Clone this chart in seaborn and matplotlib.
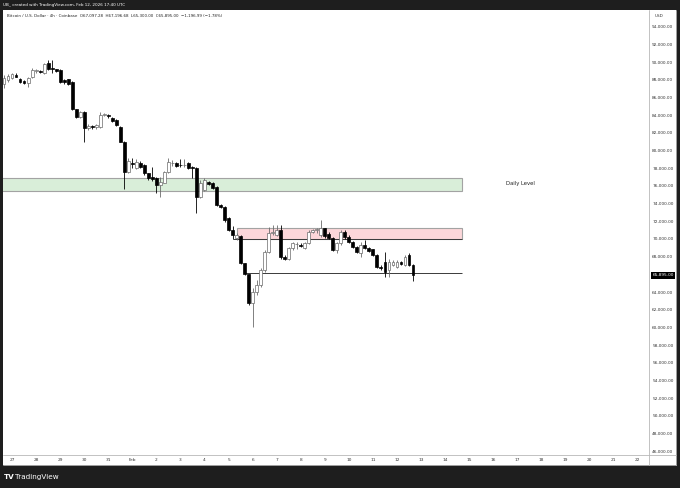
import matplotlib
matplotlib.use("Agg")
import matplotlib.pyplot as plt
import matplotlib.transforms as mtransforms
from matplotlib.patches import Rectangle
from matplotlib.lines import Line2D
import numpy as np
import pandas as pd
import seaborn as sns

# BTC/USD 4h candles, Jan 26 16:00 -> Feb 12 16:00
opens = [87600, 88000, 88190, 88530, 88110, 87880, 87620, 88300, 89020, 89000,
         88760, 89885, 89320, 89210, 89130, 88000, 88075, 87810, 84680, 83850,
         84415, 82530, 82720, 82640, 82640, 84040, 84000, 83735, 83470, 82720,
         81020, 77620, 78570, 78000, 78570, 78380, 77435, 77060, 76870, 76115,
         76380, 77620, 78570, 78640, 78380, 78350, 78570, 78190, 78000, 74795,
         75550, 76490, 76300, 75920, 73850, 73660, 72340, 71000, 70100, 70350,
         67250, 66000, 62720, 64000, 64790, 66490, 68570, 70640, 70500, 71020,
         68000, 67750, 68940, 69400, 69300, 68940, 69510, 70830, 71020, 70400,
         71200, 70600, 70100, 68750, 69500, 70830, 70265, 69700, 69130, 68380,
         69320, 68940, 68830, 68190, 66870, 67435, 66490, 67060, 66870, 67435,
         67060, 68190, 67097]
highs = [88550, 88680, 88750, 88750, 88225, 87950, 88300, 89320, 89210, 89100,
         89960, 90265, 90265, 89300, 89250, 88100, 88150, 87900, 84750, 84500,
         84500, 83020, 82950, 83000, 84415, 84300, 84100, 83850, 83550, 82800,
         81100, 79130, 79130, 79000, 78800, 78500, 77500, 78190, 77000, 77060,
         77750, 79130, 78900, 78750, 79020, 79020, 78700, 78300, 78100, 76680,
         76900, 76600, 76400, 76000, 73950, 73750, 72500, 71450, 70700, 70500,
         67300, 66050, 64500, 65360, 66680, 68750, 71400, 71585, 71585, 71585,
         68200, 69100, 69700, 69700, 69500, 69700, 71000, 71100, 71300, 72150,
         71300, 70750, 70200, 69700, 71020, 71000, 70400, 69800, 69250, 69700,
         69890, 69050, 68900, 68300, 67060, 68570, 67700, 67600, 67600, 67550,
         68150, 68380, 67197]
lows = [87050, 87810, 88075, 88350, 87620, 87500, 87170, 88190, 88830, 88800,
        88680, 89130, 88760, 88950, 87620, 87600, 87450, 84600, 83660, 83700,
        81020, 82340, 82450, 82450, 82530, 83900, 83750, 83300, 82800, 80950,
        75700, 77500, 78000, 77900, 78000, 77300, 76700, 76600, 75170, 74795,
        76300, 77500, 78300, 78150, 78200, 78200, 77900, 76870, 72900, 74600,
        75400, 76100, 75650, 73750, 73550, 71950, 70900, 70000, 69850, 67150,
        65900, 62500, 60080, 63660, 64600, 66300, 68400, 70400, 70300, 67700,
        67620, 67600, 68800, 68900, 69100, 68850, 69400, 70700, 70650, 70200,
        70100, 70000, 68600, 68450, 69320, 70000, 69600, 69000, 68450, 68000,
        68850, 68550, 68100, 66750, 66490, 65740, 65740, 66900, 66750, 67050,
        66950, 66950, 65300]
closes = [88200, 88450, 88640, 88380, 87735, 87620, 88190, 89130, 89060, 88950,
          89810, 89210, 89210, 89060, 87735, 87735, 87545, 84680, 83850, 84415,
          82530, 82790, 82700, 82900, 84040, 84080, 83900, 83395, 82900, 81020,
          77620, 78800, 78500, 78750, 78115, 77435, 76870, 76760, 76115, 76490,
          77620, 78755, 78600, 78265, 78350, 78400, 78000, 78000, 74795, 76300,
          76680, 76230, 75740, 73850, 73660, 72150, 71020, 70500, 70450, 67250,
          66050, 62720, 64000, 64790, 66490, 68570, 70640, 70830, 71020, 68000,
          67750, 68940, 69510, 69450, 69250, 69510, 70830, 71020, 71080, 71200,
          70300, 70100, 68750, 69500, 70830, 70190, 69700, 69130, 68570, 69320,
          68940, 68680, 68190, 66870, 66700, 66300, 67435, 67435, 67435, 67170,
          68000, 67060, 65895]

daily_level = (75430, 76940)     # green zone
supply_zone = (70000, 71280)     # red zone
support_level = 66120
last_price = 65895

y_ticks = list(range(46000, 94001, 2000))

sns.set_theme(style="white")
plt.rcParams["font.family"] = ["DejaVu Sans"]

W, H = 680, 488
fig = plt.figure(figsize=(6.8, 4.88), dpi=100, facecolor="#1e1e1e")


def fx(px):
    return px / W


def fy(py):
    return 1 - py / H


# white chart panel inside the dark frame (behind the axes)
fig.patches.append(Rectangle((fx(3), fy(465)), fx(676) - fx(3), fy(10) - fy(465),
                             transform=fig.transFigure, facecolor="white",
                             edgecolor="none", zorder=-5))

ax = fig.add_axes([fx(3), fy(455), fx(649) - fx(3), fy(12) - fy(455)])
ax.set_facecolor("white")

n = len(opens)
x = np.arange(n)
o = np.array(opens)
h = np.array(highs)
l = np.array(lows)
c = np.array(closes)
up = c >= o

x_lo, x_hi = -0.25, 160.85

# time axis labels from the candle timestamps
times = pd.date_range("2026-01-26 16:00", periods=161, freq="4h")
tick_pos = [i for i, t in enumerate(times) if t.hour == 0 and i <= x_hi]
tick_lab = ["Feb" if (times[i].day == 1) else str(times[i].day) for i in tick_pos]

# zones
zone_left_green = -1
zone_left_red = 58.2
zone_right = 114.2
ax.add_patch(Rectangle((zone_left_green, daily_level[0]), zone_right - zone_left_green,
                       daily_level[1] - daily_level[0], facecolor="#d9eed9",
                       edgecolor="#a3a3a3", linewidth=0.8, zorder=1))
ax.add_patch(Rectangle((zone_left_red, supply_zone[0]), zone_right - zone_left_red,
                       supply_zone[1] - supply_zone[0], facecolor="#fcd7da",
                       edgecolor="#a3a3a3", linewidth=0.8, zorder=1))
ax.hlines(supply_zone[0], 57.0, zone_right, color="#3a3a3a", linewidth=0.7, zorder=2)
ax.hlines(support_level, 60.0, zone_right, color="#3a3a3a", linewidth=0.7, zorder=2)
ax.text(128.9, 76230, "Daily Level", fontsize=3.8, color="#222222",
        ha="center", va="center")

# candles
wick_col = np.where(up, "#6b6b6b", "#000000")
ax.vlines(x, l, h, colors=wick_col, linewidth=0.6, zorder=3)
body_lo = np.minimum(o, c)
body_h = np.maximum(np.abs(c - o), 70)
ax.bar(x, body_h, bottom=body_lo, width=0.72,
       color=np.where(up, "#ffffff", "#000000"),
       edgecolor=np.where(up, "#6b6b6b", "#000000"), linewidth=0.5, zorder=4)

ax.yaxis.tick_right()
ax.set_yticks(y_ticks)
ax.set_yticklabels([f"{v:,.2f}" for v in y_ticks], fontsize=3.1, color="#333333")
ax.set_xticks(tick_pos)
ax.set_xticklabels(tick_lab, fontsize=3.1, color="#333333")
ax.set_xlim(x_lo, x_hi)
ax.set_ylim(45549, 95696)
ax.tick_params(axis="both", length=0)
ax.tick_params(axis="y", pad=2.3)
ax.tick_params(axis="x", pad=2.4)
ax.grid(False)
sns.despine(ax=ax, left=True, bottom=True, right=True, top=True)

# last price tag
trans = mtransforms.blended_transform_factory(ax.transAxes, ax.transData)
ax.text(1.0056, last_price, f"{last_price:,.2f}", transform=trans, fontsize=3.1,
        color="white", ha="left", va="center",
        bbox=dict(boxstyle="square,pad=0.35", facecolor="#000000", edgecolor="none"),
        clip_on=False)

# frame lines of the price / time axes
for line in [((649, 649), (10, 465)), ((676, 676), (10, 465)),
             ((3, 676), (455, 455)), ((3, 676), (465, 465))]:
    fig.lines.append(Line2D([fx(v) for v in line[0]], [fy(v) for v in line[1]],
                            transform=fig.transFigure, color="#b8b8b8", linewidth=0.6))

fig.text(fx(655), fy(16), "USD", fontsize=3.0, color="#333333", va="center")
fig.text(fx(3), fy(4.8), "UB_ created with TradingView.com, Feb 12, 2026 17:40 UTC",
         fontsize=3.0, color="white", va="center")
fig.text(fx(7), fy(16),
         "Bitcoin / U.S. Dollar · 4h · Coinbase  O67,097.28  H67,196.68  L65,300.00  "
         "C65,895.00  −1,196.99 (−1.78%)",
         fontsize=2.9, color="#222222", va="center")
fig.text(fx(4), fy(477), "TV", fontsize=5.2, color="white", fontweight="bold", va="center")
fig.text(fx(15), fy(477), "TradingView", fontsize=5.2, color="white", va="center")

fig.savefig("out.png", dpi=100, facecolor=fig.get_facecolor())
